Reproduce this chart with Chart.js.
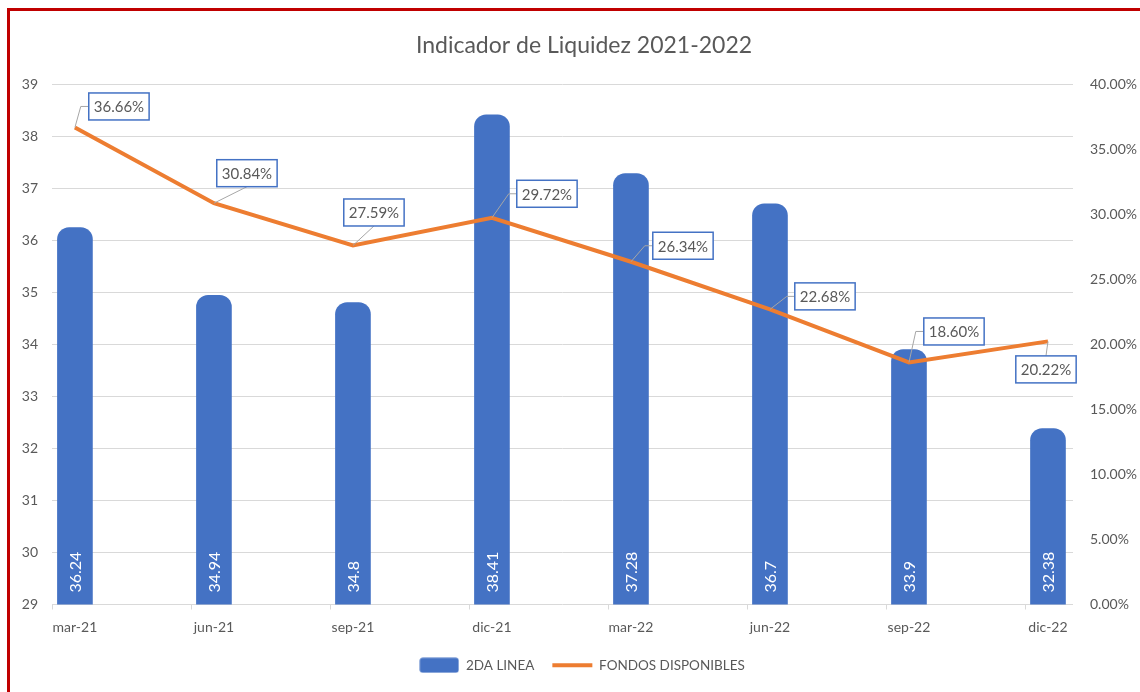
<!DOCTYPE html>
<html>
<head>
<meta charset="utf-8">
<script src="https://cdn.jsdelivr.net/npm/chart.js@4.4.0/dist/chart.umd.min.js"></script>
<style>
  body { margin: 0; background: #fff; }
  #wrap { position: relative; width: 1140px; height: 692px; overflow: hidden; }
  #frame { position: absolute; left: 7px; top: 8px; right: -10px; bottom: -10px;
           border-left: 3px solid #c00000; border-top: 3px solid #c00000; pointer-events: none; }
  canvas { position: absolute; left: 0; top: 0; }
</style>
</head>
<body>
<div id="wrap">
  <canvas id="myChart" width="1140" height="692"></canvas>
  <div id="frame"></div>
</div>
<script>
const labels = ['mar-21', 'jun-21', 'sep-21', 'dic-21', 'mar-22', 'jun-22', 'sep-22', 'dic-22'];
const segundaLinea = [36.24, 34.94, 34.8, 38.41, 37.28, 36.7, 33.9, 32.38];
const fondosDisponibles = [36.66, 30.84, 27.59, 29.72, 26.34, 22.68, 18.60, 20.22];

const titulo = 'Indicador de Liquidez 2021-2022';

// where each callout box sits relative to its point (dx, dy to box centre)
const calloutOffsets = [[44, -21], [33, -30], [21, -33], [55, -24], [52, -16], [55, -13], [45, -31], [-2, 28]];

const gray = '#595959';
const font = 'Lato';

// legend swatch for the bars: rounded blue block
const swatch = document.createElement('canvas');
swatch.width = 40;
swatch.height = 16;
(function () {
    const c = swatch.getContext('2d');
    c.fillStyle = '#4472c4';
    c.beginPath();
    c.roundRect(0.5, 0.5, 39, 15, 3);
    c.fill();
})();

const labelsPlugin = {
    id: 'labelsPlugin',
    afterLayout(chart) {
        // the legend sits a bit right of centre in the original
        chart.legend.left += 12;
        chart.legend.right += 12;
    },
    beforeDraw(chart) {
        const ctx = chart.ctx;
        ctx.save();
        ctx.fillStyle = gray;
        ctx.font = '23px ' + font;
        ctx.textAlign = 'center';
        ctx.textBaseline = 'middle';
        ctx.fillText(titulo, 584, 46);
        ctx.restore();
    },
    afterDraw(chart) {
        // small tick marks under the axis
        const ctx = chart.ctx;
        const xs = chart.scales.x;
        const bottom = chart.chartArea.bottom;
        ctx.save();
        ctx.strokeStyle = '#d9d9d9';
        ctx.lineWidth = 1;
        ctx.beginPath();
        labels.forEach((l, i) => {
            const px = Math.round(xs.getPixelForValue(xs.min + i)) + 0.5;
            ctx.moveTo(px, bottom);
            ctx.lineTo(px, bottom + 5);
        });
        ctx.stroke();
        ctx.restore();
    },
    afterDatasetsDraw(chart) {
        const ctx = chart.ctx;
        const area = chart.chartArea;

        // white rotated values inside the bars
        const bars = chart.getDatasetMeta(0).data;
        ctx.save();
        ctx.fillStyle = '#ffffff';
        ctx.font = '16px ' + font;
        ctx.textAlign = 'left';
        ctx.textBaseline = 'middle';
        bars.forEach((bar, i) => {
            ctx.save();
            ctx.translate(bar.x, area.bottom - 12);
            ctx.rotate(-Math.PI / 2);
            ctx.fillText(String(segundaLinea[i]), 0, 1);
            ctx.restore();
        });
        ctx.restore();

        // callouts for the line
        const pts = chart.getDatasetMeta(1).data;
        ctx.save();
        ctx.font = '15px ' + font;
        pts.forEach((p, i) => {
            const txt = fondosDisponibles[i].toFixed(2) + '%';
            const w = ctx.measureText(txt).width + 10;
            const h = 27;
            const cx = p.x + calloutOffsets[i][0];
            const cy = p.y + calloutOffsets[i][1];
            const left = cx - w / 2, top = cy - h / 2;

            ctx.strokeStyle = '#a6a6a6';
            ctx.lineWidth = 1;
            ctx.beginPath();
            ctx.moveTo(p.x, p.y);
            if (Math.abs(calloutOffsets[i][0]) < 40) {
                ctx.lineTo(cx, calloutOffsets[i][1] < 0 ? top + h : top);
            } else {
                ctx.lineTo(left - 8, cy);
                ctx.lineTo(left, cy);
            }
            ctx.stroke();

            ctx.fillStyle = '#ffffff';
            ctx.fillRect(left, top, w, h);
            ctx.strokeStyle = '#4472c4';
            ctx.lineWidth = 1.5;
            ctx.strokeRect(left, top, w, h);

            ctx.fillStyle = gray;
            ctx.textAlign = 'center';
            ctx.textBaseline = 'middle';
            ctx.fillText(txt, cx, cy + 1);
        });
        ctx.restore();
    }
};

const data = {
    datasets: [{
        type: 'bar',
        label: '2DA LINEA',
        data: segundaLinea.map((v, i) => ({x: i, y: v})),
        backgroundColor: '#4472c4',
        borderRadius: {topLeft: 12, topRight: 12},
        borderSkipped: 'bottom',
        barThickness: 35,
        pointStyle: swatch,
        yAxisID: 'y',
        order: 2
    }, {
        type: 'line',
        label: 'FONDOS DISPONIBLES',
        data: fondosDisponibles.map((v, i) => ({x: i, y: v})),
        borderColor: '#ed7d31',
        backgroundColor: '#ed7d31',
        borderWidth: 4,
        pointRadius: 0,
        pointStyle: 'line',
        tension: 0,
        yAxisID: 'y1',
        order: 1
    }]
};

const config = {
    data: data,
    plugins: [labelsPlugin],
    options: {
        responsive: false,
        animation: false,
        layout: { padding: { left: 0, right: 0, top: 84, bottom: 10 } },
        plugins: {
            title: { display: false },
            legend: {
                position: 'bottom',
                labels: {
                    color: gray,
                    font: { family: font, size: 13.5 },
                    usePointStyle: true,
                    pointStyleWidth: 40,
                    boxHeight: 16,
                    padding: 18,
                    sort: (a, b) => a.datasetIndex - b.datasetIndex
                }
            },
            tooltip: { enabled: false }
        },
        scales: {
            x: {
                type: 'linear',
                offset: false,
                min: -0.165,
                max: 7.18,
                afterBuildTicks: (scale) => { scale.ticks = labels.map((l, i) => ({value: i})); },
                afterFit: (scale) => { scale.height = 36; },
                ticks: {
                    callback: (v) => labels[v],
                    color: gray,
                    font: { family: font, size: 14 },
                    padding: 15,
                    maxRotation: 0
                },
                grid: { display: false, drawTicks: false },
                border: { display: false }
            },
            y: {
                position: 'left',
                min: 29,
                max: 39,
                afterFit: (scale) => { scale.width = 52; },
                ticks: { stepSize: 1, color: gray, font: { family: font, size: 14 }, padding: 14 },
                grid: { color: '#d9d9d9', lineWidth: 1, drawTicks: false },
                border: { display: false }
            },
            y1: {
                position: 'right',
                min: 0,
                max: 40,
                afterFit: (scale) => { scale.width = 67; },
                ticks: {
                    stepSize: 5,
                    color: gray,
                    font: { family: font, size: 14 },
                    padding: 17,
                    callback: (v) => v.toFixed(2) + '%'
                },
                grid: { display: false, drawTicks: false },
                border: { display: false }
            }
        }
    }
};

const myChart = new Chart(document.getElementById('myChart'), config);
</script>
</body>
</html>
